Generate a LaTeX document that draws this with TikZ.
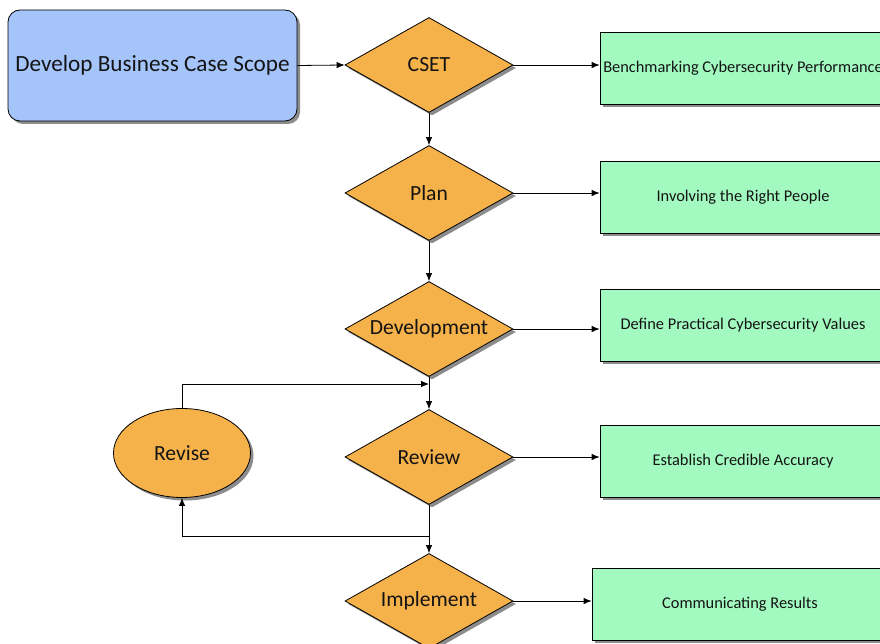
\documentclass[tikz,border=0pt]{standalone}
\usepackage{fontspec}
\setmainfont{Carlito}
\usetikzlibrary{shapes.geometric,shadows,arrows.meta}
\definecolor{bluefill}{RGB}{164,196,250}
\definecolor{orangefill}{RGB}{246,178,74}
\definecolor{greenfill}{RGB}{162,250,192}
\definecolor{inkc}{RGB}{20,20,20}
\begin{document}
\begin{tikzpicture}[x=1pt,y=-1pt,
 shad/.style={drop shadow={shadow xshift=3pt,shadow yshift=-3pt,fill=black!45,opacity=1}},
 bluebox/.style={rectangle,rounded corners=12pt,draw=black,line width=0.8pt,fill=bluefill,shad,minimum width=289pt,minimum height=111pt,inner sep=0pt,text=inkc,font=\fontsize{23.2}{27}\selectfont},
 dia/.style={diamond,shape aspect=1.77,draw=black,line width=0.8pt,fill=orangefill,shad,minimum width=168pt,minimum height=95pt,inner sep=0pt,text=inkc,font=\fontsize{21.6}{25}\selectfont},
 oval/.style={ellipse,draw=black,line width=0.8pt,fill=orangefill,shad,minimum width=137pt,minimum height=89pt,inner sep=0pt,text=inkc,font=\fontsize{21.6}{25}\selectfont},
 gbox/.style={rectangle,draw=black,line width=0.8pt,fill=greenfill,shad,minimum width=286pt,minimum height=72pt,inner sep=0pt,text=inkc,font=\fontsize{16.4}{19}\selectfont},
 arr/.style={-{Latex[length=8pt,width=6.5pt]},line width=0.8pt}]
\useasboundingbox (0,0) rectangle (880,644);
\clip (0,0) rectangle (880,644);
\node[bluebox] (scope) at (152.5,65.5) {Develop Business Case Scope};
\node[dia] (cset) at (429,65) {CSET};
\node[dia] (plan) at (429,193) {Plan};
\node[dia] (dev) at (429,329) {Development};
\node[dia] (rev) at (429,457) {Review};
\node[dia] (imp) at (429,601) {Implement};
\node[oval] (revise) at (182,453) {Revise};
\node[gbox] (g1) at (743,68.5) {Benchmarking Cybersecurity Performance};
\node[gbox] (g2) at (743,197) {Involving the Right People};
\node[gbox] (g3) at (743,325) {Define Practical Cybersecurity Values};
\node[gbox] (g4) at (743,461) {Establish Credible Accuracy};
\node[gbox,minimum width=296pt] (g5) at (740,604) {Communicating Results};
\coordinate (topj) at (429,384);
\coordinate (botj) at (429,536);
\draw[arr] (scope.east) -- (cset.west);
\draw[arr] (cset.east) -- (cset.east -| g1.west);
\draw[arr] (plan.east) -- (plan.east -| g2.west);
\draw[arr] (dev.east) -- (dev.east -| g3.west);
\draw[arr] (rev.east) -- (rev.east -| g4.west);
\draw[arr] (imp.east) -- (imp.east -| g5.west);
\draw[arr] (cset.south) -- (plan.north);
\draw[arr] (plan.south) -- (dev.north);
\draw[arr] (dev.south) -- (rev.north);
\draw[arr] (rev.south) -- (imp.north);
\draw[arr] (revise.north) |- (topj);
\draw[arr] (botj) -| (revise.south);
\end{tikzpicture}
\end{document}
